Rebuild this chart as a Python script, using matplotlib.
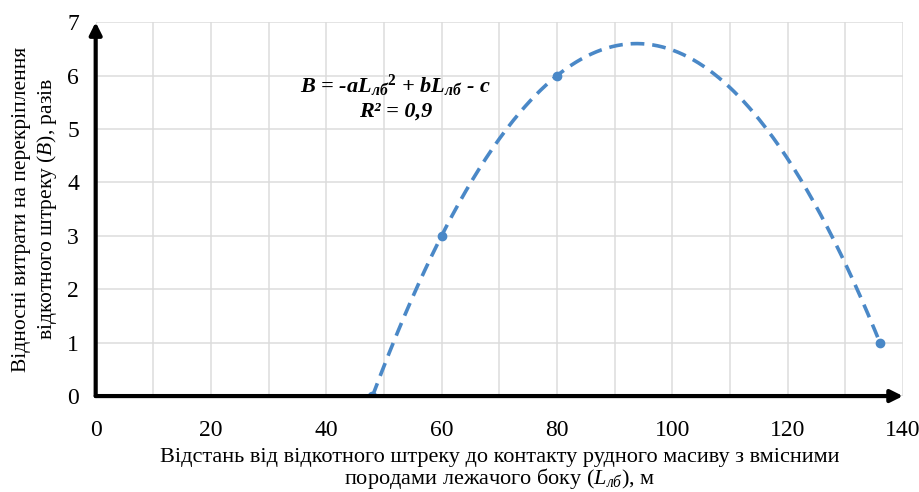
import matplotlib.pyplot as plt
import numpy as np

# données
x_pts = [48, 60, 80, 136]
y_pts = [0, 3, 6, 1]
x_ticks = [0, 20, 40, 60, 80, 100, 120, 140]
y_ticks = [0, 1, 2, 3, 4, 5, 6, 7]

plt.rcParams['font.family'] = ['Liberation Serif', 'DejaVu Serif']
plt.rcParams['mathtext.fontset'] = 'custom'
plt.rcParams['mathtext.rm'] = 'Liberation Serif'
plt.rcParams['mathtext.it'] = 'Liberation Serif:italic'
plt.rcParams['mathtext.bf'] = 'Liberation Serif:bold'
plt.rcParams['mathtext.bfit'] = 'Liberation Serif:italic:bold'

fig = plt.figure(figsize=(9.2, 4.92), dpi=100)
ax = fig.add_axes([0.104, 0.195, 0.8775, 0.76])

blue = '#4a88c7'

# courbe de tendance polynomiale (ordre 2)
coef = np.polyfit(x_pts, y_pts, 2)
xs = np.linspace(min(x_pts), max(x_pts), 300)
ax.plot(xs, np.polyval(coef, xs), '--', color=blue, lw=2.6, dashes=(3.8, 2.2))
ax.plot(x_pts, y_pts, 'o', color=blue, ms=6)

ax.set_xlim(0, 140)
ax.set_ylim(0, 7)
ax.set_xticks(x_ticks)
ax.set_yticks(y_ticks)
ax.set_xticks(np.arange(10, 140, 20), minor=True)
ax.grid(True, which='both', color='#dcdcdc', lw=1.1)
ax.set_axisbelow(True)
ax.tick_params(which='both', length=0, labelsize=17)
ax.tick_params(axis='x', pad=17)
ax.tick_params(axis='y', pad=12)

for s in ax.spines.values():
    s.set_visible(False)

# axes avec flèches
ax.annotate('', xy=(1.0, 0), xytext=(0, 0), xycoords='axes fraction',
            arrowprops=dict(arrowstyle='-|>', color='black', lw=3,
                            mutation_scale=18, shrinkA=0, shrinkB=0))
ax.annotate('', xy=(0, 1.0), xytext=(0, 0), xycoords='axes fraction',
            arrowprops=dict(arrowstyle='-|>', color='black', lw=3,
                            mutation_scale=18, shrinkA=0, shrinkB=0))

ax.set_xlabel('Відстань від відкотного штреку до контакту рудного масиву з вмісними\n'
              'породами лежачого боку ($\\mathit{L_{лб}}$), м', fontsize=16,
              labelpad=5, linespacing=0.95)
ax.set_ylabel('Відносні витрати на перекріплення\n'
              'відкотного штреку ($\\mathit{B}$), разів', fontsize=15.5, labelpad=6)

ax.text(52, 5.8, r'B = -aL$_{\mathbfit{лб}}$$^{\mathbf{2}}$ + bL$_{\mathbfit{лб}}$ - c',
        fontsize=16, fontweight='bold', style='italic', ha='center', va='center')
ax.text(52, 5.32, 'R² = 0,9', fontsize=16, fontweight='bold', style='italic',
        ha='center', va='center')

fig.savefig('out.png', dpi=100)
